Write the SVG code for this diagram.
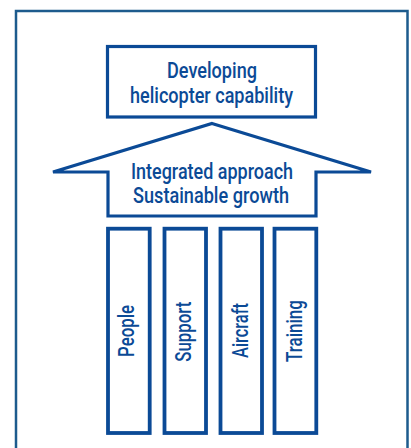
<svg xmlns="http://www.w3.org/2000/svg" width="411" height="448" viewBox="0 0 411 448">
<style>
.frame{fill:none;stroke:#1d5b8d;stroke-width:2.5}
.box{fill:#fff;stroke:#0b4a96;stroke-width:3.2;stroke-linejoin:miter}
.pillar{fill:#fff;stroke:#0b4a96;stroke-width:3.8}
.t{font-family:Roboto,"Liberation Sans",Arial,sans-serif;font-weight:500;font-size:21.5px;fill:#0b4a96;text-anchor:middle}
</style>
<rect width="411" height="448" fill="#fff"/>
<rect class="frame" x="16" y="11" width="391.5" height="460"/>
<g id="goal">
<rect class="box" x="107.5" y="46.5" width="208" height="70.5"/>
<text class="t" x="212" y="78.3" textLength="90" lengthAdjust="spacingAndGlyphs">Developing</text>
<text class="t" x="211.5" y="102.5" textLength="163" lengthAdjust="spacingAndGlyphs">helicopter capability</text>
</g>
<g id="approach">
<polygon class="box" points="212,123.5 371,172 316,172 316,216 108,216 108,172 53,172"/>
<text class="t" x="212" y="179" textLength="162" lengthAdjust="spacingAndGlyphs">Integrated approach</text>
<text class="t" x="211" y="202.5" textLength="156" lengthAdjust="spacingAndGlyphs">Sustainable growth</text>
</g>
<g id="people">
<rect class="pillar" x="108" y="228.7" width="41.7" height="204.3"/>
<text class="t" transform="translate(134,331) rotate(-90)" textLength="52" lengthAdjust="spacingAndGlyphs">People</text>
</g>
<g id="support">
<rect class="pillar" x="164.5" y="228.7" width="41.5" height="204.3"/>
<text class="t" transform="translate(190.7,331.7) rotate(-90)" textLength="60" lengthAdjust="spacingAndGlyphs">Support</text>
</g>
<g id="aircraft">
<rect class="pillar" x="220.5" y="228.7" width="41.5" height="204.3"/>
<text class="t" transform="translate(248,330.5) rotate(-90)" textLength="55" lengthAdjust="spacingAndGlyphs">Aircraft</text>
</g>
<g id="training">
<rect class="pillar" x="274.5" y="228.7" width="41.8" height="204.3"/>
<text class="t" transform="translate(301.5,331) rotate(-90)" textLength="62" lengthAdjust="spacingAndGlyphs">Training</text>
</g>
<g id="connectors"></g>
</svg>
